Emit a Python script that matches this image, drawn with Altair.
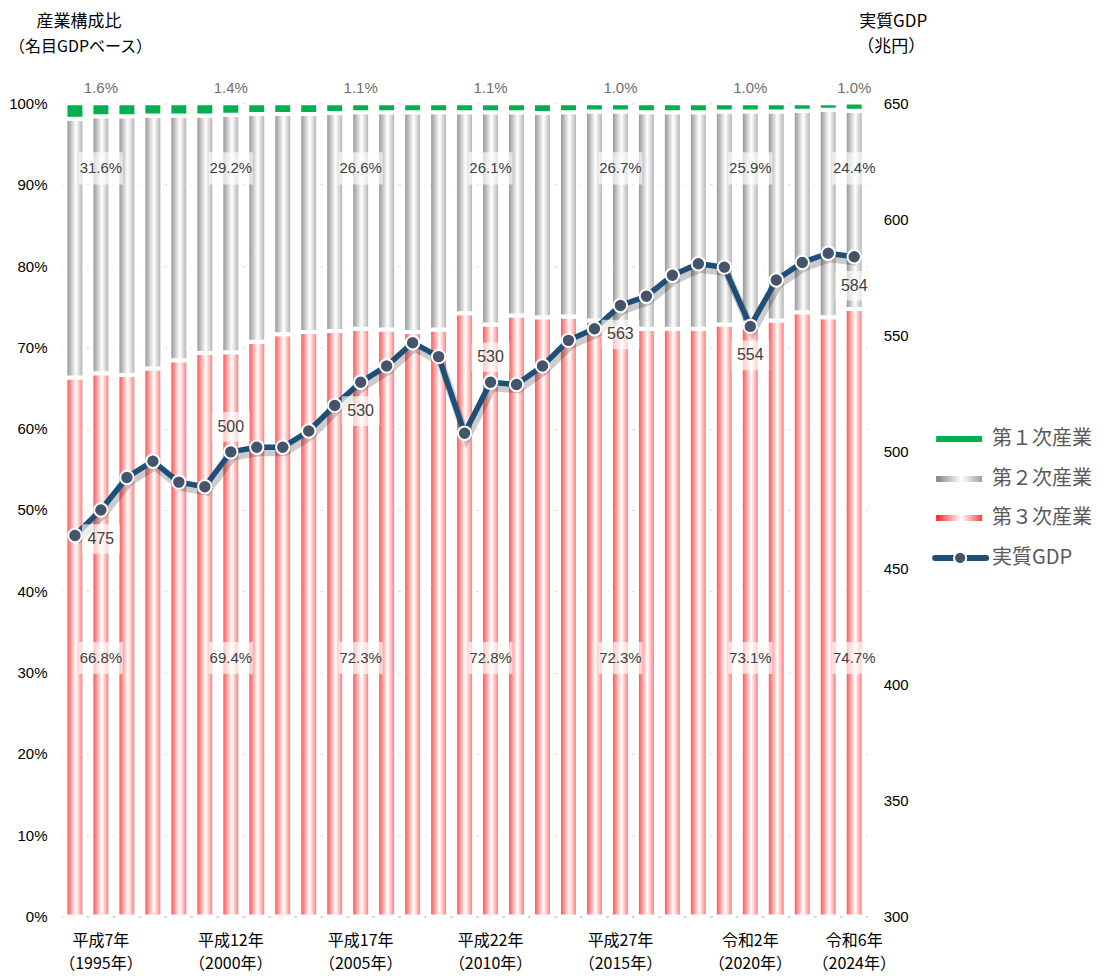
import altair as alt
import pandas as pd

# ---------------- data ----------------
years = list(range(1994, 2025))
tertiary = [66.3, 66.8, 66.6, 67.4, 68.4, 69.3, 69.4, 70.7, 71.6, 71.9, 72.0,
            72.3, 72.2, 71.9, 72.2, 74.2, 72.8, 73.9, 73.7, 73.8, 73.3,
            72.3, 72.3, 72.3, 72.3, 72.8, 73.1, 73.3, 74.3, 73.7, 74.7]
secondary = [31.8, 31.6, 31.8, 31.1, 30.1, 29.2, 29.2, 28.0, 27.1, 26.8, 26.8,
             26.6, 26.7, 27.0, 26.7, 24.7, 26.1, 25.0, 25.1, 25.1, 25.7,
             26.7, 26.6, 26.6, 26.6, 26.2, 25.9, 25.7, 24.8, 25.5, 24.4]
primary = [1.9, 1.6, 1.6, 1.5, 1.5, 1.5, 1.4, 1.3, 1.3, 1.3, 1.2,
           1.1, 1.1, 1.1, 1.1, 1.1, 1.1, 1.1, 1.2, 1.1, 1.0,
           1.0, 1.1, 1.1, 1.1, 1.0, 1.0, 1.0, 0.9, 0.8, 1.0]
gdp = [464, 475, 489, 496, 487, 485, 500, 502, 502, 509, 520,
       530, 537, 547, 541, 508, 530, 529, 537, 548, 553,
       563, 567, 576, 581, 579.5, 554, 574, 581.5, 585.5, 584]

label_years = [1995, 2000, 2005, 2010, 2015, 2020, 2024]
era_labels = ["平成7年", "平成12年", "平成17年", "平成22年", "平成27年", "令和2年", "令和6年"]
ad_labels = ["（1995年）", "（2000年）", "（2005年）", "（2010年）", "（2015年）", "（2020年）", "（2024年）"]
gdp_label_side = ["below", "above", "below", "above", "below", "below", "below"]

legend_names = ["第１次産業", "第２次産業", "第３次産業", "実質GDP"]
left_title = ["産業構成比", "（名目GDPベース）"]
right_title = ["実質GDP", "（兆円）"]

# ---------------- tables ----------------
df = pd.DataFrame({"year": years, "tertiary": tertiary, "secondary": secondary,
                   "primary": primary, "gdp": gdp})
df["t0"] = 0.0
df["t1"] = df["tertiary"] / 100
df["s1"] = df["t1"] + df["secondary"] / 100
df["p1"] = df["s1"] + df["primary"] / 100

lab = df[df["year"].isin(label_years)].copy()
lab["tl"] = lab["tertiary"].map(lambda v: f"{v:.1f}%")
lab["sl"] = lab["secondary"].map(lambda v: f"{v:.1f}%")
lab["pl"] = lab["primary"].map(lambda v: f"{v:.1f}%")
lab["gl"] = lab["gdp"].map(lambda v: f"{v:.0f}")
lab["side"] = gdp_label_side
lab["xl"] = [f"{a}\n{b}" for a, b in zip(era_labels, ad_labels)]

W, H = 806, 814
FONT = "Noto Sans CJK JP"
NUMFONT = "Liberation Sans"

xscale = alt.Scale(domain=years, paddingInner=0.27, paddingOuter=0.135)
xaxis = alt.Axis(labels=False, ticks=False, title=None, grid=False,
                 domainColor="#d9d9d9", domainWidth=2)
X = alt.X("year:O", scale=xscale, axis=xaxis)

yscale = alt.Scale(domain=[0, 1], nice=False)
yaxis = alt.Axis(orient="left", format="%", values=[i / 10 for i in range(11)],
                 title=None, domain=False, ticks=False, tickSize=0, labelPadding=15,
                 grid=True, gridDash=[3, 3], gridColor="#d9d9d9",
                 labelFont=NUMFONT, labelFontSize=15, labelColor="#000000")

def grad(c0, c1):
    return alt.LinearGradient(
        gradient="linear", x1=0, x2=1, y1=0, y2=0,
        stops=[alt.GradientStop(color=c0, offset=0),
               alt.GradientStop(color="#ffffff", offset=0.55),
               alt.GradientStop(color=c1, offset=1)])

red_grad = grad("#ff3030", "#ff5a5a")
grey_grad = grad("#808080", "#a0a0a0")

base = alt.Chart(df)

red = base.mark_bar(fill=red_grad, stroke="white", strokeWidth=4).encode(
    x=X, y=alt.Y("t0:Q", scale=yscale, axis=yaxis), y2="t1:Q")
grey = base.mark_bar(fill=grey_grad, stroke="white", strokeWidth=4).encode(
    x=X, y=alt.Y("t1:Q", scale=yscale, axis=yaxis), y2="s1:Q")
green = base.mark_bar(fill="#00b050", stroke="white", strokeWidth=4).encode(
    x=X, y=alt.Y("s1:Q", scale=yscale, axis=yaxis), y2="p1:Q")

box_path = "M-1,-0.73L1,-0.73L1,0.73L-1,0.73Z"
lbase = alt.Chart(lab)

def pct_labels(ypos, field, color, box=True):
    layers = []
    if box:
        layers.append(lbase.mark_point(shape=box_path, size=1936, filled=True,
                                       color="white", opacity=0.65).encode(
            x=X, y=alt.Y(datum=ypos, scale=yscale, axis=yaxis)))
    layers.append(lbase.mark_text(font=NUMFONT, fontSize=15, color=color).encode(
        x=X, y=alt.Y(datum=ypos, scale=yscale, axis=yaxis), text=f"{field}:N"))
    return layers

left_layers = [red, grey, green]
left_layers += pct_labels(0.318, "tl", "#404040")
left_layers += pct_labels(0.920, "sl", "#404040")
left_layers += pct_labels(1.0184, "pl", "#6e6e6e", box=False)

xlabels = lbase.mark_text(font=FONT, fontSize=16, color="#000000", baseline="top",
                          lineBreak="\n", lineHeight=23).encode(
    x=X, y=alt.value(H + 16), text="xl:N")
left_layers.append(xlabels)

left = alt.layer(*left_layers)

# ---------------- GDP line ----------------
gscale = alt.Scale(domain=[300, 650], nice=False)
gaxis = alt.Axis(orient="right", values=list(range(300, 651, 50)), title=None,
                 domain=False, ticks=False, tickSize=0, labelPadding=16, grid=False,
                 labelFont=NUMFONT, labelFontSize=15, labelColor="#000000")
G = alt.Y("gdp:Q", scale=gscale, axis=gaxis)

shadow = base.mark_line(color="#000000", opacity=0.2, strokeWidth=8,
                        xOffset=2, yOffset=5).encode(x=X, y=G)
line = base.mark_line(color="#1f4e79", strokeWidth=5.5).encode(x=X, y=G)
pts = base.mark_circle(size=180, fill="#44546a", stroke="white", strokeWidth=2,
                       opacity=1).encode(x=X, y=G)

gbox_path = "M-1,-0.78L1,-0.78L1,0.78L-1,0.78Z"
below = lbase.transform_filter(alt.datum.side == "below")
above = lbase.transform_filter(alt.datum.side == "above")
glabels = []
for src, off in [(below, 29), (above, -25)]:
    glabels.append(src.mark_point(shape=gbox_path, size=1444, filled=True,
                                  color="white", opacity=0.65, yOffset=off).encode(x=X, y=G))
    glabels.append(src.mark_text(font=NUMFONT, fontSize=16, color="#404040",
                                 yOffset=off).encode(x=X, y=G, text="gl:N"))

right = alt.layer(shadow, line, pts, *glabels)

# ---------------- titles & legend ----------------
tdf = pd.DataFrame({"t": [left_title[0]] + right_title,
                    "px": [17, 832, 830], "py": [-81, -81, -56]})
titles = alt.Chart(tdf).mark_text(font=FONT, fontSize=17, color="#000000").encode(
    x=alt.X("px:Q", scale=None), y=alt.Y("py:Q", scale=None), text="t:N")
tdf2 = pd.DataFrame({"t": [left_title[1]], "px": [-53], "py": [-56]})
title2 = alt.Chart(tdf2).mark_text(font=FONT, fontSize=16, color="#000000",
                                   align="left").encode(
    x=alt.X("px:Q", scale=None), y=alt.Y("py:Q", scale=None), text="t:N")

ldf = pd.DataFrame({"name": legend_names, "py": [336, 376, 415, 455]})
leg_text = alt.Chart(ldf).mark_text(font=FONT, fontSize=20, color="#595959",
                                    align="left", baseline="middle").encode(
    x=alt.value(931), y=alt.Y("py:Q", scale=None), text="name:N")

sw_green = alt.Chart(ldf.iloc[[0]]).mark_rect(fill="#00b050").encode(
    x=alt.value(875), x2=alt.value(921), y=alt.value(333), y2=alt.value(339))
sw_grey = alt.Chart(ldf.iloc[[1]]).mark_rect(fill=grad("#808080", "#a0a0a0")).encode(
    x=alt.value(875), x2=alt.value(921), y=alt.value(373), y2=alt.value(379))
sw_red = alt.Chart(ldf.iloc[[2]]).mark_rect(fill=grad("#ff2020", "#ff4040")).encode(
    x=alt.value(875), x2=alt.value(921), y=alt.value(412), y2=alt.value(418))
sw_line = alt.Chart(ldf.iloc[[3]]).mark_rule(color="#1f4e79", strokeWidth=6,
                                             strokeCap="round").encode(
    x=alt.value(874), x2=alt.value(925), y=alt.value(455))
sw_pt = alt.Chart(ldf.iloc[[3]]).mark_circle(size=150, fill="#44546a", stroke="white",
                                             strokeWidth=2, opacity=1).encode(
    x=alt.value(899), y=alt.value(455))

chart = alt.layer(left, right, titles, title2, leg_text, sw_green, sw_grey, sw_red,
                  sw_line, sw_pt).resolve_scale(y="independent").properties(
    width=W, height=H,
    autosize=alt.AutoSizeParams(type="none"),
    padding={"left": 54, "top": 95, "right": 230, "bottom": 62},
).configure_view(strokeWidth=0).configure_text(font=FONT)

chart.save("out.html", embed_options={"renderer": "svg", "actions": False})
